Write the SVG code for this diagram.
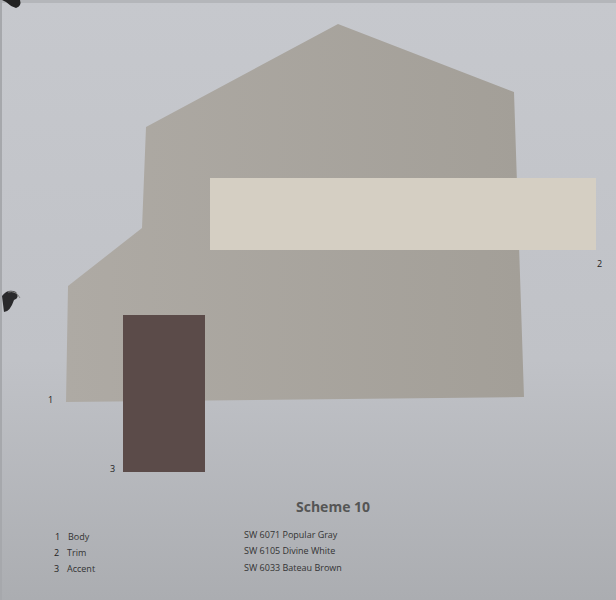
<svg xmlns="http://www.w3.org/2000/svg" width="616" height="600" viewBox="0 0 616 600">
<defs>
<linearGradient id="bg" x1="0" y1="0" x2="0" y2="1">
<stop offset="0" stop-color="#c6c8cd"/>
<stop offset="0.6" stop-color="#c0c2c7"/>
<stop offset="1" stop-color="#abadb1"/>
</linearGradient>
<linearGradient id="body" x1="0" y1="0" x2="1" y2="0">
<stop offset="0" stop-color="#aeaaa4"/>
<stop offset="1" stop-color="#a39f98"/>
</linearGradient>
<style>
.lbl{font-family:"Open Sans","Liberation Sans",sans-serif;font-size:9px;fill:#333}
.num{font-family:"Open Sans","Liberation Sans",sans-serif;font-size:9px;fill:#222}
</style>
</defs>
<rect width="616" height="600" fill="url(#bg)"/>
<rect x="0" y="0" width="616" height="3" fill="#b4b6ba"/>
<rect x="0" y="0" width="2" height="600" fill="#a6a8ac"/>
<path d="M2 0 L20 0 Q22 6 16 8 Q10 6 6 2 Z" fill="#222"/>
<path d="M2 296 Q8 288 16 292 Q20 298 14 300 Q10 312 4 312 Z" fill="#2a2a2c"/>
<path d="M8 292 Q16 290 20 298" fill="none" stroke="#888" stroke-width="1"/>
<g id="body-swatch">
<polygon points="338,24 514,92 524,397 66,402 68,286 142,228 146,127" fill="url(#body)"/>
</g>
<g id="trim-swatch">
<rect x="210" y="178" width="386" height="72" fill="#d5cfc3"/>
</g>
<g id="accent-swatch">
<rect x="123" y="315" width="82" height="157" fill="#5b4b49"/>
</g>
<text class="num" x="48" y="403">1</text>
<text class="num" x="597" y="267">2</text>
<text class="num" x="110" y="472">3</text>
<text x="296" y="512" font-family="'Open Sans','Liberation Sans',sans-serif" font-size="14" font-weight="bold" fill="#555">Scheme 10</text>
<text class="num" x="55" y="540">1</text><text class="lbl" x="68" y="540">Body</text>
<text class="num" x="54" y="556">2</text><text class="lbl" x="67" y="556">Trim</text>
<text class="num" x="54" y="572">3</text><text class="lbl" x="67" y="572">Accent</text>
<text class="lbl" x="244" y="538">SW 6071 Popular Gray</text>
<text class="lbl" x="244" y="554">SW 6105 Divine White</text>
<text class="lbl" x="244" y="571">SW 6033 Bateau Brown</text>
</svg>
